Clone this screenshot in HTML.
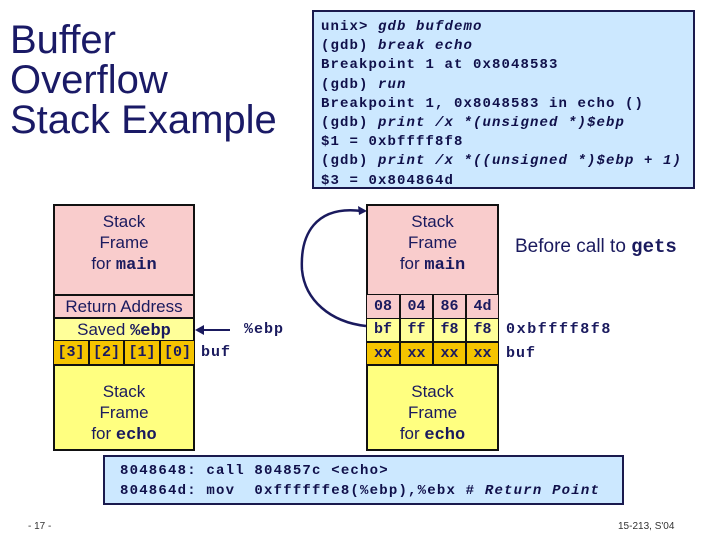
<!DOCTYPE html>
<html><head><meta charset="utf-8"><style>
body{margin:0;width:720px;height:540px;background:#fff;position:relative;overflow:hidden;font-family:"Liberation Sans",sans-serif;color:#1a1a5e}
.a{position:absolute}
.m{font-family:"Liberation Mono",monospace;font-weight:bold}
.title{left:10px;top:20px;font-size:40px;line-height:40px;color:#1a1a66}
.code{left:312px;top:10px;width:383px;height:179px;background:#cce8ff;border:2px solid #1a1a4e;box-sizing:border-box;padding:6px 0 0 7px;font-size:14px;letter-spacing:1.1px;line-height:19.2px;white-space:pre;color:#10104a}
.b{position:absolute;border:2px solid #111;box-sizing:border-box;text-align:center}
.pk{background:#f9cccc}.yl{background:#ffff80}.ly{background:#ffff99}.or{background:#f5c400}
.f{font-size:17px;line-height:21px}
.cell{position:absolute;border:1px solid #111;box-sizing:border-box;text-align:center;font-family:"Liberation Mono",monospace;font-weight:bold;font-size:15px}
</style></head><body>
<div class="a title">Buffer<br>Overflow<br>Stack Example</div>
<div class="a code m">unix&gt; <i>gdb bufdemo</i>
(gdb) <i>break echo</i>
Breakpoint 1 at 0x8048583
(gdb) <i>run</i>
Breakpoint 1, 0x8048583 in echo ()
(gdb) <i>print /x *(unsigned *)$ebp</i>
$1 = 0xbffff8f8
(gdb) <i>print /x *((unsigned *)$ebp + 1)</i>
$3 = 0x804864d</div>

<!-- left stack -->
<div class="b pk f" style="left:53px;top:204px;width:142px;height:92px;padding-top:5px">Stack<br>Frame<br>for <span class="m">main</span></div>
<div class="b pk" style="left:53px;top:294px;width:142px;height:25px;font-size:17px;line-height:22px">Return Address</div>
<div class="b ly" style="left:53px;top:317px;width:142px;height:25px;font-size:17px;line-height:22px">Saved <span class="m">%ebp</span></div>
<div class="cell or" style="left:53px;top:340px;width:36px;height:26px;line-height:24px">[3]</div>
<div class="cell or" style="left:89px;top:340px;width:35px;height:26px;line-height:24px">[2]</div>
<div class="cell or" style="left:124px;top:340px;width:36px;height:26px;line-height:24px">[1]</div>
<div class="cell or" style="left:160px;top:340px;width:35px;height:26px;line-height:24px">[0]</div>
<div class="b yl f" style="left:53px;top:364px;width:142px;height:87px;padding-top:15px">Stack<br>Frame<br>for <span class="m">echo</span></div>
<div class="a m" style="left:201px;top:344px;font-size:15px;letter-spacing:1px">buf</div>
<div class="a m" style="left:244px;top:321px;font-size:15px;letter-spacing:1px">%ebp</div>
<svg class="a" style="left:0;top:0" width="720" height="540">
<line x1="230" y1="330" x2="200" y2="330" stroke="#1a1a5e" stroke-width="2"/>
<polygon points="195,330 204,325 204,335" fill="#1a1a5e"/>
<path d="M366,326 C330,322 305,300 302,270 C300,235 315,205 362,211" fill="none" stroke="#1a1a5e" stroke-width="2.5"/>
<polygon points="367,211 358,206 359,215" fill="#1a1a5e"/>
</svg>

<!-- right stack -->
<div class="b pk f" style="left:366px;top:204px;width:133px;height:92px;padding-top:5px">Stack<br>Frame<br>for <span class="m">main</span></div>
<div class="cell pk" style="left:366px;top:294px;width:34px;height:25px;line-height:23px">08</div>
<div class="cell pk" style="left:400px;top:294px;width:33px;height:25px;line-height:23px">04</div>
<div class="cell pk" style="left:433px;top:294px;width:33px;height:25px;line-height:23px">86</div>
<div class="cell pk" style="left:466px;top:294px;width:33px;height:25px;line-height:23px">4d</div>
<div class="cell ly" style="left:366px;top:318px;width:34px;height:24px;line-height:22px">bf</div>
<div class="cell ly" style="left:400px;top:318px;width:33px;height:24px;line-height:22px">ff</div>
<div class="cell ly" style="left:433px;top:318px;width:33px;height:24px;line-height:22px">f8</div>
<div class="cell ly" style="left:466px;top:318px;width:33px;height:24px;line-height:22px">f8</div>
<div class="cell or" style="left:366px;top:342px;width:34px;height:24px;line-height:22px">xx</div>
<div class="cell or" style="left:400px;top:342px;width:33px;height:24px;line-height:22px">xx</div>
<div class="cell or" style="left:433px;top:342px;width:33px;height:24px;line-height:22px">xx</div>
<div class="cell or" style="left:466px;top:342px;width:33px;height:24px;line-height:22px">xx</div>
<div class="b yl f" style="left:366px;top:364px;width:133px;height:87px;padding-top:15px">Stack<br>Frame<br>for <span class="m">echo</span></div>
<div class="a m" style="left:506px;top:321px;font-size:15px;letter-spacing:1.6px">0xbffff8f8</div>
<div class="a m" style="left:506px;top:345px;font-size:15px;letter-spacing:1px">buf</div>
<div class="a" style="left:515px;top:236px;font-size:19px">Before call to <span class="m">gets</span></div>

<div class="a m" style="left:103px;top:455px;width:521px;height:50px;background:#cce8ff;border:2px solid #1a1a4e;box-sizing:border-box;padding:4px 0 0 15px;font-size:14px;letter-spacing:1.2px;line-height:20px;white-space:pre;color:#10104a">8048648: call 804857c &lt;echo&gt;
804864d: mov  0xffffffe8(%ebp),%ebx # <i>Return Point</i></div>
<div class="a" style="left:28px;top:521px;font-size:10px;color:#333">- 17 -</div>
<div class="a" style="left:618px;top:521px;font-size:10px;color:#333">15-213, S'04</div>
</body></html>
